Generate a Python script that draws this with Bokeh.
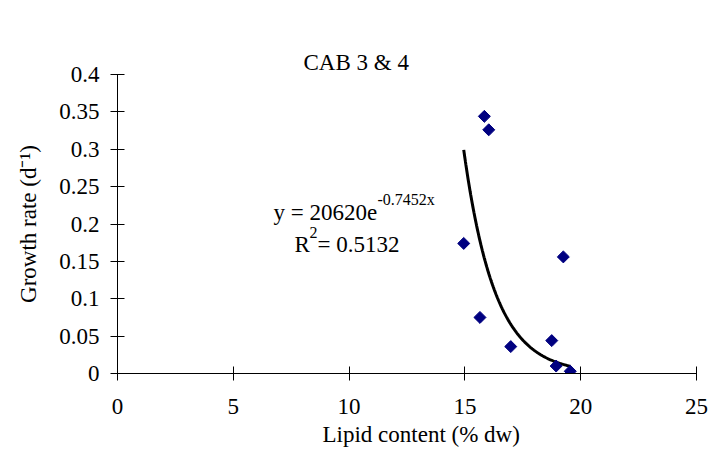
import numpy as np
from math import pi
from bokeh.plotting import figure
from bokeh.models import Label, FixedTicker, ColumnDataSource, Range1d, Title, LinearAxis
from bokeh.embed import file_html
from bokeh.resources import INLINE

# Measured samples: lipid content (% dry weight) vs growth rate (per day)
lipid = [15.84, 16.03, 14.95, 19.25, 15.65, 16.98, 18.75, 18.94, 19.55]
growth = [0.344, 0.326, 0.174, 0.156, 0.075, 0.036, 0.044, 0.010, 0.003]

# Exponential trendline y = a * exp(b * x)
fit_a = 20620
fit_b = -0.7452
r_squared = "0.5132"

x_ticks = [0, 5, 10, 15, 20, 25]
x_tick_labels = ["0", "5", "10", "15", "20", "25"]
y_ticks = [0, 0.05, 0.1, 0.15, 0.2, 0.25, 0.3, 0.35, 0.4]
y_tick_labels = ["0", "0.05", "0.1", "0.15", "0.2", "0.25", "0.3", "0.35", "0.4"]

FONT = "Liberation Serif"
FS = "23px"
SUP = "16px"

p = figure(width=710, height=450, output_backend="svg", toolbar_location=None,
           x_range=Range1d(0, 25), y_range=Range1d(0, 0.4),
           min_border_left=117, min_border_right=14, min_border_top=74, min_border_bottom=77)
p.outline_line_color = None
p.xgrid.visible = False
p.ygrid.visible = False
p.background_fill_color = "white"
p.border_fill_color = "white"

for ax, ticks, labels, standoff in ((p.xaxis[0], x_ticks, x_tick_labels, 18),
                                    (p.yaxis[0], y_ticks, y_tick_labels, 11)):
    ax.ticker = FixedTicker(ticks=ticks)
    ax.major_label_overrides = {t: l for t, l in zip(ticks, labels)}
    ax.major_tick_in = 7
    ax.major_tick_out = 7
    ax.minor_tick_line_color = None
    ax.axis_line_color = "black"
    ax.major_tick_line_color = "black"
    ax.major_label_text_font = FONT
    ax.major_label_text_font_size = FS
    ax.major_label_text_color = "black"
    ax.major_label_standoff = standoff

p.yaxis.axis_label = "Growth rate (d\u207b\u00b9)"
p.yaxis.axis_label_text_font = FONT
p.yaxis.axis_label_text_font_size = FS
p.yaxis.axis_label_text_font_style = "normal"
p.yaxis.axis_label_text_color = "black"
p.yaxis.axis_label_standoff = 15

# Blank top axis (no ticks, no line) used only as a gap between frame and title
gap = LinearAxis(ticker=FixedTicker(ticks=[]), axis_line_color=None,
                 major_tick_line_color=None, minor_tick_line_color=None,
                 major_tick_in=0, major_tick_out=41, minor_tick_in=0, minor_tick_out=0,
                 major_label_standoff=0)
p.add_layout(gap, "above")
p.add_layout(Title(text="CAB 3 & 4", align="left", offset=186, standoff=0,
                   text_font=FONT, text_font_size=FS, text_font_style="normal",
                   text_color="black"), "above")
p.add_layout(Title(text="Lipid content (% dw)", align="left", offset=205, standoff=6,
                   text_font=FONT, text_font_size=FS, text_font_style="normal",
                   text_color="black"), "below")

# Trendline drawn from the stated equation over the data span
xs = np.linspace(min(lipid), max(lipid), 200)
trend = ColumnDataSource(dict(x=xs, y=fit_a * np.exp(fit_b * xs)))
p.line("x", "y", source=trend, line_color="black", line_width=3)

pts = ColumnDataSource(dict(x=lipid, y=growth))
p.scatter("x", "y", source=pts, marker="square", angle=pi / 4, size=8.5,
          fill_color="#000080", line_color="#000080")


def lab(text, x, y, size=FS):
    p.add_layout(Label(x=x, y=y, x_units="screen", y_units="screen", text=text,
                       text_font=FONT, text_font_size=size, text_color="black",
                       text_align="left", text_baseline="alphabetic"))


# Trendline equation
lab("y = 20620e", 156, 161)
lab("-0.7452x", 260, 174, size=SUP)
lab("R", 177, 129)
lab("2", 192, 141, size=SUP)
lab(" = " + r_squared, 200, 129)

open("out.html", "w").write(file_html(p, INLINE))
